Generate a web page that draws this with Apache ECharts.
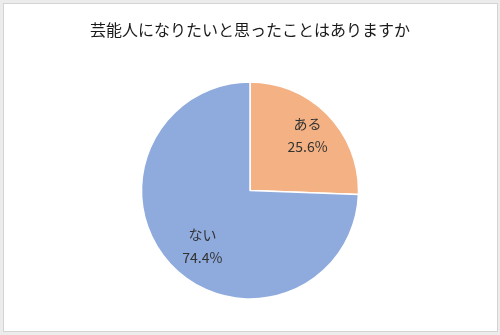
<!DOCTYPE html>
<html><head><meta charset="utf-8">
<script src="https://cdn.jsdelivr.net/npm/echarts@6/dist/echarts.min.js"></script>
<style>
html,body{margin:0;padding:0;background:#ececec;}
#frame{position:absolute;left:3px;top:3px;width:493px;height:327px;border:1px solid #d4d4d4;background:#fff;}
#c{position:absolute;left:0;top:0;width:500px;height:335px;}
</style></head>
<body>
<div id="frame"></div>
<div id="c"></div>
<script>
const title = "芸能人になりたいと思ったことはありますか";
const categories = ["ある", "ない"];
const values = [25.6, 74.4];
const colors = ["#F4B183", "#8FAADC"];

const labelPads = [[0,0,0,0],[6,0,0,20]];
const chart = echarts.init(document.getElementById('c'), null, {renderer:'canvas'});
const pieData = categories.map((n,i)=>({name:n, value:values[i], itemStyle:{color:colors[i]}}));
const labelData = categories.map((n,i)=>({name:n, value:values[i], label:{padding:labelPads[i]}}));
chart.setOption({
  backgroundColor: 'transparent',
  animation: false,
  title: {
    text: title, left: 'center', top: 17,
    textStyle: {fontFamily: 'Noto Sans CJK JP', fontSize: 16, fontWeight: 'normal', color: '#1a1a1a'}
  },
  series: [
    {
      type: 'pie', center: [250, 190.5], radius: [0, 108.5], startAngle: 90, clockwise: true,
      data: pieData, label: {show: false}, labelLine: {show: false},
      itemStyle: {borderColor: '#fff', borderWidth: 1.5}, silent: true
    },
    {
      type: 'pie', center: [250, 190.5], radius: [0, 154], startAngle: 90, clockwise: true,
      data: labelData, silent: true,
      itemStyle: {color: 'rgba(0,0,0,0)', borderWidth: 0},
      label: {
        show: true, position: 'inside',
        formatter: p => p.name + '\n' + p.value.toFixed(1) + '%',
        fontFamily: 'Noto Sans CJK JP', fontSize: 14, lineHeight: 23, color: '#333'
      },
      labelLine: {show: false}
    }
  ]
});
</script>
</body></html>
